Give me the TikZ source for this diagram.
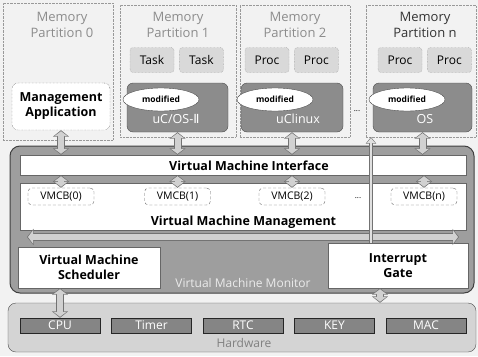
\documentclass[tikz,border=0pt]{standalone}
\usepackage{fontspec}
\setmainfont{Open Sans}
\newfontfamily\symfont{DejaVu Sans}
\usetikzlibrary{positioning,shapes.geometric,arrows.meta}

\begin{document}
\begin{tikzpicture}[x=1pt,y=-1pt,
  every node/.style={inner sep=0pt,font=\fontsize{12}{15}\selectfont},
  part/.style={draw=black!40,densely dotted},
  memlabel/.style={align=center,text=black!45,font=\fontsize{13}{16}\selectfont},
  taskbox/.style={draw=black!45,densely dotted,fill=black!15,rounded corners=3pt,
    minimum width=44pt,minimum height=25pt},
  osbox/.style={draw=black!70,fill=black!45,rounded corners=6pt,minimum height=49pt},
  oslabel/.style={text=white,font=\fontsize{12.5}{15}\selectfont},
  modif/.style={ellipse,draw=black!70,fill=white,minimum width=76pt,minimum height=23pt,
    font=\bfseries\fontsize{8.5}{10}\selectfont},
  appbox/.style={draw=black!70,densely dotted,fill=white,rounded corners=6pt,align=center,
    font=\bfseries\fontsize{12.5}{15}\selectfont},
  vmm/.style={draw=black!75,line width=1pt,fill=black!38,rounded corners=10pt},
  layer/.style={draw=black!60,fill=white},
  vmcb/.style={draw=black!60,densely dashed,fill=white,rounded corners=4pt,
    minimum width=66pt,minimum height=17pt,font=\fontsize{10.5}{12}\selectfont},
  unit/.style={draw=black!60,fill=white,align=center,font=\bfseries\fontsize{12.5}{15}\selectfont},
  hwbase/.style={draw=black!70,fill=black!17,rounded corners=8pt},
  hwbox/.style={draw=black!85,fill=black!48,text=white,minimum width=80pt,minimum height=15pt},
  bus/.style={line width=6pt,draw=black!18,
    {Triangle[width=13pt,length=5pt]}-{Triangle[width=13pt,length=5pt]},
    shorten <=1pt,shorten >=1pt,
    preaction={draw=black!55,line width=8pt,shorten <=0pt,shorten >=0pt,
      {Triangle[width=16pt,length=6.5pt]}-{Triangle[width=16pt,length=6.5pt]}}},
  irq/.style={line width=2.5pt,draw=black!12,-{Triangle[width=8pt,length=5pt]},shorten >=1pt,
    preaction={draw=black!55,line width=4pt,shorten >=0pt,-{Triangle[width=10pt,length=6.5pt]}}}]
 % \draw[help lines] (0,0) grid[step=20] (478,356);
  \fill[black!5] (0,0) rectangle (478,356);
  \useasboundingbox (0,0) rectangle (478,356);

  % memory partitions
  \node[part,minimum width=110pt,minimum height=137pt] (p0) at (58,71.5) {};
  \node[part,minimum width=116pt,minimum height=132pt] (p1) at (178,71) {};
  \node[part,minimum width=110pt,minimum height=132pt] (p2) at (295,71) {};
  \node[part,minimum width=110pt,minimum height=132pt] (pn) at (421,71) {};
  \node[memlabel] (m0) at (62,25) {Memory\\Partition 0};
  \node[memlabel] (m1) at (178,25) {Memory\\Partition 1};
  \node[memlabel] (m2) at (295,25) {Memory\\Partition 2};
  \node[memlabel,text=black!80] (mn) at (425,25) {Memory\\Partition n};

  \node[taskbox] (t1) at (152,60) {Task};
  \node[taskbox] (t2) [right=5pt of t1] {Task};
  \node[taskbox] (q1) at (267,60) {Proc};
  \node[taskbox] (q2) [right=5pt of q1] {Proc};
  \node[taskbox] (r1) at (400,60) {Proc};
  \node[taskbox] (r2) [right=5pt of r1] {Proc};

  \node[appbox,minimum width=98pt,minimum height=47pt] (app) at (61,106.5) {Management\\Application};
  \node[osbox,minimum width=101pt] (ucos) at (177.5,107.5) {};
  \node[osbox,minimum width=102pt] (uclinux) at (292,107.5) {};
  \node[osbox,minimum width=99pt] (osn) at (422.5,107.5) {};
  \node[modif] (e1) at (161,99.5) {modified};
  \node[modif] (e2) at (275,99.5) {modified};
  \node[modif] (e3) at (407,99.5) {modified};
  \node[oslabel] (l1) at (176,119) {uC/OS-{\symfont Ⅱ}};
  \node[oslabel] (l2) at (298,119) {uClinux};
  \node[oslabel] (l3) at (425,119) {OS};
  \node[font=\fontsize{8}{8}\selectfont] (d1) at (357,111) {...};

  % virtual machine monitor
  \node[vmm,minimum width=464pt,minimum height=147pt] (vmmon) at (242,219.5) {};
  \node[layer,minimum width=446pt,minimum height=20pt] (vmi) at (243,165) {};
  \node[font=\bfseries\fontsize{12.5}{15}\selectfont] (vmit) at (249,166) {Virtual Machine Interface};
  \node[layer,minimum width=446pt,minimum height=47pt] (vmman) at (243,206.5) {};
  \node[font=\bfseries\fontsize{12.5}{15}\selectfont] (vmmant) at (243.5,222) {Virtual Machine Management};
  \node[vmcb] (c0) at (61,196.5) {VMCB(0)};
  \node[vmcb] (c1) at (177.5,196.5) {VMCB(1)};
  \node[vmcb] (c2) at (292,196.5) {VMCB(2)};
  \node[vmcb] (cn) at (424,196.5) {VMCB(n)};
  \node[font=\fontsize{8}{8}\selectfont] (d2) at (358,198) {...};
  \node[unit,minimum width=142pt,minimum height=41pt] (sched) at (89,267.5) {Virtual Machine\\Scheduler};
  \node[unit,minimum width=140pt,minimum height=45pt] (gate) at (398,265.5) {Interrupt\\Gate};
  \node[text=black!8,font=\fontsize{12}{15}\selectfont] (vmmt) at (243,283) {Virtual Machine Monitor};

  % hardware
  \node[hwbase,minimum width=468pt,minimum height=49pt] (hw) at (242,327.5) {};
  \foreach \name/\lbl [count=\i from 0] in {cpu/CPU,timer/Timer,rtc/RTC,key/KEY,mac/MAC}
    \node[hwbox] (\name) at (60+91.5*\i,325.5) {\lbl};
  \node[text=black!50] (hwt) at (244,343) {Hardware};

  % links
  \coordinate (bl) at (27,237);
  \coordinate (br) at (459,237);
  \coordinate (irqtop) at (371,137);
  \coordinate (gatelink) at (380,0);
  \foreach \a/\c in {app/c0,ucos/c1,uclinux/c2,osn/cn} {
    \draw[bus] (\a.south) -- (\a.south |- vmi.north);
    \draw[bus] (\c.north |- vmi.south) -- (\c.north);
  }
  \draw[bus] (bl) -- (br);
  \draw[irq] (gate.north -| irqtop) -- (irqtop);
  \draw[bus] (cpu.north |- sched.south) -- (cpu.north);
  \draw[bus] (gate.south -| gatelink) -- (hw.north -| gatelink);
\end{tikzpicture}
\end{document}
